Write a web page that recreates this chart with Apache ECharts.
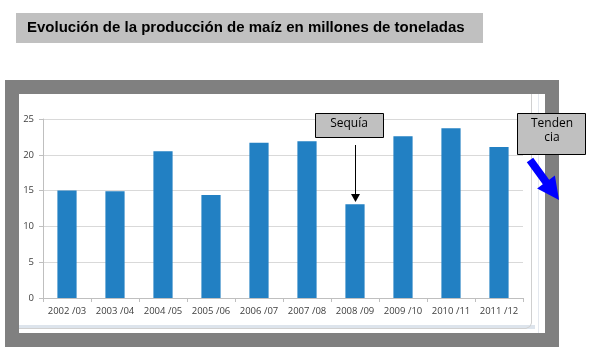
<!DOCTYPE html>
<html>
<head>
<meta charset="utf-8">
<script src="https://cdn.jsdelivr.net/npm/echarts@6/dist/echarts.min.js"></script>
<style>
  html, body { margin: 0; padding: 0; background: #fff; }
  #chart { width: 590px; height: 351px; }
</style>
</head>
<body>
<div id="chart"></div>
<script>
// datos
const campanias = ['2002 /03', '2003 /04', '2004 /05', '2005 /06', '2006 /07',
  '2007 /08', '2008 /09', '2009 /10', '2010 /11', '2011 /12'];
const produccion = [15.0, 14.9, 20.5, 14.4, 21.7, 21.9, 13.1, 22.6, 23.7, 21.1];
const yTicks = [0, 5, 10, 15, 20, 25];

const titulo = 'Evolución de la producción de maíz en millones de toneladas';

const chart = echarts.init(document.getElementById('chart'));

const option = {
  animation: false,
  grid: { left: 43, right: 67, top: 119, bottom: 53 },
  xAxis: {
    type: 'category',
    data: campanias,
    axisLine: { lineStyle: { color: '#bfbfbf' } },
    axisTick: { show: true, length: 4, lineStyle: { color: '#bfbfbf' } },
    axisLabel: { interval: 0, color: '#404040', fontSize: 9.5, fontFamily: 'Open Sans', margin: 8 }
  },
  yAxis: {
    type: 'value',
    min: yTicks[0],
    max: yTicks[yTicks.length - 1],
    interval: 5,
    axisLine: { show: true, lineStyle: { color: '#bfbfbf' } },
    axisTick: { show: true, length: 4, lineStyle: { color: '#bfbfbf' } },
    axisLabel: { color: '#404040', fontSize: 9.5, fontFamily: 'Open Sans', margin: 9 },
    splitLine: { lineStyle: { color: '#d9d9d9' } }
  },
  series: [{
    type: 'bar',
    data: produccion,
    barWidth: '40%',
    itemStyle: { color: '#2280c3' }
  }],
  graphic: [
    // caja del titulo
    { type: 'rect', z: -100, shape: { x: 16, y: 13, width: 467, height: 30 }, style: { fill: '#c0c0c0' } },
    { type: 'text', z: -99, x: 27, y: 28, style: { text: titulo, fill: '#000', font: 'bold 15px "Liberation Sans", Arial', textVerticalAlign: 'middle' } },
    // marco gris
    { type: 'rect', z: -100, shape: { x: 5, y: 80, width: 554, height: 267 }, style: { fill: '#808080' } },
    { type: 'rect', z: -99, shape: { x: 19, y: 94, width: 526, height: 239 }, style: { fill: '#ffffff' } },
    { type: 'rect', z: -98, shape: { x: 19, y: 325, width: 516, height: 4 }, style: { fill: '#dde4ec' } },
    { type: 'polyline', z: -97, shape: { points: [[531.5, 94], [531.5, 323], [530, 326.5], [526, 328.5], [19, 328.5]] }, style: { fill: 'none', stroke: '#d0d0d0', lineWidth: 1 } },
    { type: 'line', z: -97, shape: { x1: 538.5, y1: 94, x2: 538.5, y2: 333 }, style: { stroke: '#e4e8ee', lineWidth: 1 } },
    // Sequia
    { type: 'rect', z: 100, shape: { x: 315.5, y: 113.5, width: 68, height: 24 }, style: { fill: '#c0c0c0', stroke: '#000', lineWidth: 1 } },
    { type: 'text', z: 101, x: 349, y: 124, style: { text: 'Sequía', fill: '#000', font: '12px "Open Sans"', textAlign: 'center', textVerticalAlign: 'middle' } },
    { type: 'line', z: 100, shape: { x1: 355.5, y1: 145, x2: 355.5, y2: 196 }, style: { stroke: '#000', lineWidth: 1 } },
    { type: 'polygon', z: 100, shape: { points: [[351, 194], [360, 194], [355.5, 202]] }, style: { fill: '#000' } },
    // Tendencia
    { type: 'rect', z: 100, shape: { x: 517.5, y: 113.5, width: 68, height: 41 }, style: { fill: '#c0c0c0', stroke: '#000', lineWidth: 1 } },
    { type: 'text', z: 101, x: 552, y: 124, style: { text: 'Tenden', fill: '#000', font: '12px "Open Sans"', textAlign: 'center', textVerticalAlign: 'middle' } },
    { type: 'text', z: 101, x: 552, y: 138, style: { text: 'cia', fill: '#000', font: '12px "Open Sans"', textAlign: 'center', textVerticalAlign: 'middle' } },
    { type: 'polygon', z: 100, shape: { points: [[533.2, 157.7], [549.2, 179.7], [554.9, 175.5], [559, 200], [537.1, 188.5], [542.8, 184.3], [526.8, 162.3]] }, style: { fill: '#0000ff' } }
  ]
};

chart.setOption(option);
</script>
</body>
</html>
